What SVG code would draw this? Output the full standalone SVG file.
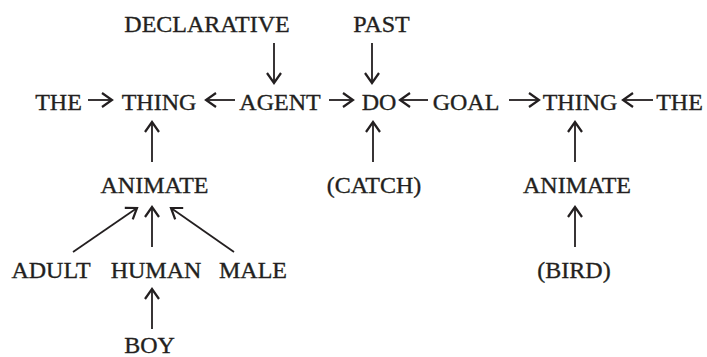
<svg xmlns="http://www.w3.org/2000/svg" width="707" height="357" viewBox="0 0 707 357">
  <style>
    text { font-family: "Liberation Serif", "DejaVu Serif", serif; font-size: 24px; fill: #231f20; stroke: #231f20; stroke-width: 0.35; text-anchor: middle; }
    .edge { stroke: #231f20; stroke-width: 1.8; fill: none; marker-end: url(#head); }
  </style>
  <defs>
    <marker id="head" markerUnits="userSpaceOnUse" markerWidth="16" markerHeight="18" viewBox="-13 -9 16 18" refX="0" refY="0" orient="auto" overflow="visible">
      <path d="M-10,-7 L0,0 L-10,7" fill="none" stroke="#231f20" stroke-width="2.2" stroke-linejoin="miter"/>
    </marker>
  </defs>

  <rect width="707" height="357" fill="#ffffff"/>

  <!-- nodes -->
  <g id="declarative"><text x="207" y="32">DECLARATIVE</text></g>
  <g id="past"><text x="381.5" y="32">PAST</text></g>
  <g id="the-left"><text x="58.5" y="110">THE</text></g>
  <g id="thing-left"><text x="159" y="110">THING</text></g>
  <g id="agent"><text x="280" y="110">AGENT</text></g>
  <g id="do"><text x="379" y="110">DO</text></g>
  <g id="goal"><text x="466" y="110">GOAL</text></g>
  <g id="thing-right"><text x="580" y="110">THING</text></g>
  <g id="the-right"><text x="679.5" y="110">THE</text></g>
  <g id="animate-left"><text x="154.5" y="193">ANIMATE</text></g>
  <g id="catch"><text x="374" y="193">(CATCH)</text></g>
  <g id="animate-right"><text x="577" y="193">ANIMATE</text></g>
  <g id="adult"><text x="51" y="278">ADULT</text></g>
  <g id="human"><text x="156" y="278">HUMAN</text></g>
  <g id="male"><text x="253" y="278">MALE</text></g>
  <g id="bird"><text x="574" y="278">(BIRD)</text></g>
  <g id="boy"><text x="149.5" y="353">BOY</text></g>

  <!-- connectors -->
  <g id="connectors">
    <line class="edge" x1="274" y1="43" x2="274" y2="83"/>
    <line class="edge" x1="372" y1="43" x2="372" y2="83"/>
    <line class="edge" x1="88" y1="100" x2="112" y2="100"/>
    <line class="edge" x1="235" y1="100" x2="206" y2="100"/>
    <line class="edge" x1="329" y1="100" x2="353" y2="100"/>
    <line class="edge" x1="428" y1="100" x2="400" y2="100"/>
    <line class="edge" x1="509" y1="100" x2="539" y2="100"/>
    <line class="edge" x1="653" y1="100" x2="623" y2="100"/>
    <line class="edge" x1="152" y1="162" x2="152" y2="122"/>
    <line class="edge" x1="373" y1="162" x2="373" y2="122"/>
    <line class="edge" x1="575" y1="162" x2="575" y2="122"/>
    <line class="edge" x1="73" y1="252" x2="137" y2="208"/>
    <line class="edge" x1="152" y1="247" x2="152" y2="207"/>
    <line class="edge" x1="234" y1="252" x2="171" y2="208"/>
    <line class="edge" x1="575" y1="247" x2="575" y2="207"/>
    <line class="edge" x1="152" y1="329" x2="152" y2="289"/>
  </g>
</svg>
